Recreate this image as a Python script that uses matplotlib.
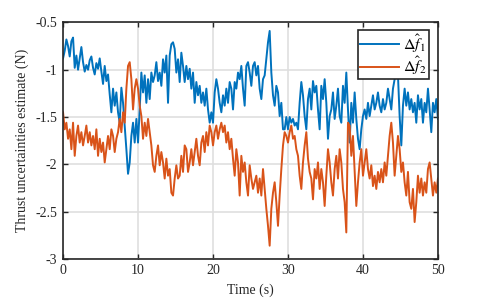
import matplotlib

matplotlib.use("Agg")
import matplotlib.pyplot as plt
import numpy as np
from matplotlib.ticker import FuncFormatter

# thrust uncertainty estimates, 0-50 s
f1_est = [
    -0.88, -0.80, -0.68, -0.75, -0.86, -0.70, -0.66, -0.98, -0.85, -1.00,
    -0.88, -0.76, -0.92, -1.02, -0.95, -1.00, -0.90, -0.86, -0.98, -1.05,
    -0.93, -0.99, -0.88, -1.02, -1.15, -0.96, -1.12, -1.05, -1.26, -1.45,
    -1.20, -1.38, -1.24, -1.45, -1.56, -1.19, -1.35, -1.59, -1.84, -2.10,
    -1.98, -1.70, -1.56, -1.77, -1.52,
    -1.77, -1.42, -1.03, -1.24, -1.06, -1.35, -1.10, -1.31, -1.03, -1.13,
    -1.06, -0.92, -1.12, -1.03, -1.17, -0.89, -1.03, -0.85, -1.35, -0.85,
    -0.73, -0.71, -0.78, -1.03, -0.89, -1.13, -0.82, -0.96, -1.13, -0.96,
    -1.10, -0.99, -1.20, -1.03, -1.35, -1.13, -1.27, -1.17, -1.35, -1.24,
    -1.38, -1.20, -1.42, -1.56, -1.45,
    -1.56, -1.24, -1.10, -1.20, -1.35, -1.45, -1.27, -1.38, -1.20, -1.35,
    -1.13, -1.20, -1.42, -1.13, -1.20, -1.03, -1.10, -0.96, -1.20, -1.38,
    -0.96, -0.92, -1.03, -1.17, -0.96, -0.92, -1.06, -0.96, -1.20, -1.31,
    -1.10, -1.06, -0.89, -0.71, -0.59, -1.03, -1.27, -1.38, -1.17, -1.24,
    -1.49, -1.35, -1.63, -1.63, -1.50,
    -1.63, -1.50, -1.56, -1.52, -1.59, -1.56, -1.63, -1.35, -1.13, -1.27,
    -1.49, -1.63, -1.31, -1.20, -1.42, -1.12, -1.24, -1.17, -1.42, -1.63,
    -1.17, -1.31, -1.10, -1.35, -1.73, -1.49, -1.42, -1.24, -1.52, -1.38,
    -1.20, -1.49, -1.56, -1.17, -1.35, -1.03, -1.42, -1.77, -1.35, -1.56,
    -1.24, -1.52, -1.73, -1.84, -1.63,
    -1.49, -1.42, -1.52, -1.35, -1.49, -1.38, -1.27, -1.42, -1.35, -1.24,
    -1.38, -1.45, -1.31, -1.42, -1.35, -1.20, -1.31, -1.42, -1.20, -1.10,
    -1.03, -1.06, -1.49, -1.80, -1.38, -1.20, -1.38, -1.24, -1.42, -1.31,
    -1.45, -1.35, -1.56, -1.27, -1.42, -1.31, -1.56, -1.35, -1.45, -1.20,
    -1.42, -1.66, -1.35, -1.45, -1.31, -1.52,
]

f2_est = [
    -1.45, -1.63, -1.56, -1.73, -1.63, -1.84, -1.56, -1.91, -1.70, -1.59,
    -1.77, -1.66, -1.80, -1.70, -1.59, -1.77, -1.66, -1.80, -1.70, -1.84,
    -1.63, -1.91, -1.73, -1.87, -1.77, -1.98, -1.84, -1.70, -1.84, -1.63,
    -1.70, -1.87, -1.73, -1.66, -1.52, -1.66, -1.45, -1.56, -1.20, -0.96,
    -0.92, -1.10, -1.42, -1.20, -1.10,
    -1.20, -1.38, -1.49, -1.73, -1.56, -1.70, -1.52, -1.66, -1.80, -2.01,
    -2.08, -1.91, -1.80, -2.01, -1.87, -1.98, -2.15, -1.94, -2.12, -2.05,
    -2.30, -2.33, -2.15, -2.01, -2.15, -2.12, -1.91, -2.08, -1.80, -1.84,
    -2.08, -1.98, -1.84, -2.01, -1.87, -1.73, -1.91, -2.01, -1.77, -1.70,
    -1.87, -1.66, -1.80, -1.59, -1.66,
    -1.80, -1.66, -1.59, -1.73, -1.63, -1.56, -1.66, -1.59, -1.77, -1.66,
    -1.84, -1.73, -1.94, -2.12, -1.84, -1.98, -2.33, -1.91, -2.08, -1.98,
    -2.19, -2.33, -2.01, -2.15, -2.26, -2.19, -2.12, -2.30, -2.15, -2.33,
    -2.05, -2.26, -2.47, -2.65, -2.86, -2.47, -2.30, -2.19, -2.40, -2.65,
    -2.33, -2.05, -1.80, -1.66, -1.70,
    -1.77, -1.66, -1.59, -1.73, -1.70, -1.84, -1.91, -2.12, -2.26, -1.98,
    -1.80, -1.66, -1.94, -2.08, -2.15, -2.37, -2.05, -2.15, -1.98, -2.26,
    -2.05, -2.19, -2.44, -2.12, -1.84, -1.98, -2.19, -2.33, -2.05, -1.91,
    -2.15, -1.84, -1.98, -2.26, -2.40, -2.72, -1.56, -1.59, -1.91, -1.70,
    -2.08, -2.44, -2.19, -1.98, -1.84,
    -2.12, -1.98, -1.84, -2.05, -2.15, -2.01, -2.23, -2.12, -2.26, -2.08,
    -2.19, -2.05, -2.19, -1.98, -2.12, -1.91, -1.70, -1.56, -1.77, -2.12,
    -1.91, -1.70, -1.84, -2.08, -1.98, -2.19, -2.33, -2.08, -2.40, -2.47,
    -2.26, -2.61, -2.40, -2.12, -2.30, -2.15, -2.33, -2.19, -2.30, -2.05,
    -1.98, -2.15, -2.33, -2.19, -2.30, -2.15,
]

x_ticks = [0, 10, 20, 30, 40, 50]
y_ticks = [-3, -2.5, -2, -1.5, -1, -0.5]
series_labels = [r"$\Delta\hat{f}_1$", r"$\Delta\hat{f}_2$"]

plt.rcParams["font.family"] = ["Liberation Serif", "DejaVu Serif"]
plt.rcParams["mathtext.fontset"] = "stix"
plt.rcParams["axes.unicode_minus"] = False

time = np.linspace(0, 50, len(f1_est))

fig = plt.figure(figsize=(4.85, 2.99), dpi=100)
ax = fig.add_axes([0.13, 0.134, 0.773, 0.791])

ax.plot(time, f1_est, color="#0072BD", lw=1.4, label=series_labels[0])
ax.plot(time, f2_est, color="#D95319", lw=1.4, label=series_labels[1])

ax.set_xlim(0, 50)
ax.set_ylim(-3, -0.5)
ax.set_xticks(x_ticks)
ax.set_yticks(y_ticks)
ax.yaxis.set_major_formatter(FuncFormatter(lambda v, p: f"{v:g}"))
ax.grid(True, color="#dfdfdf", lw=1.2)
ax.set_axisbelow(True)
ax.tick_params(direction="in", length=3.5, width=1.0, labelsize=10,
               top=True, right=True, colors="#262626", pad=4)
for sp in ax.spines.values():
    sp.set_color("#262626")
    sp.set_linewidth(1.2)

ax.set_xlabel("Time (s)", fontsize=10, color="#262626", labelpad=4)
ax.set_ylabel("Thrust uncertainties estimate (N)", fontsize=10,
              color="#262626", labelpad=5)

leg = ax.legend(loc="upper right", bbox_to_anchor=(0.976, 0.966),
                borderaxespad=0, fancybox=False, framealpha=1,
                edgecolor="#262626", fontsize=11.5, handlelength=2.4,
                handletextpad=0.3, borderpad=0.12, labelspacing=0.0)
leg.get_frame().set_linewidth(1.2)

fig.savefig("out.png", dpi=100)
